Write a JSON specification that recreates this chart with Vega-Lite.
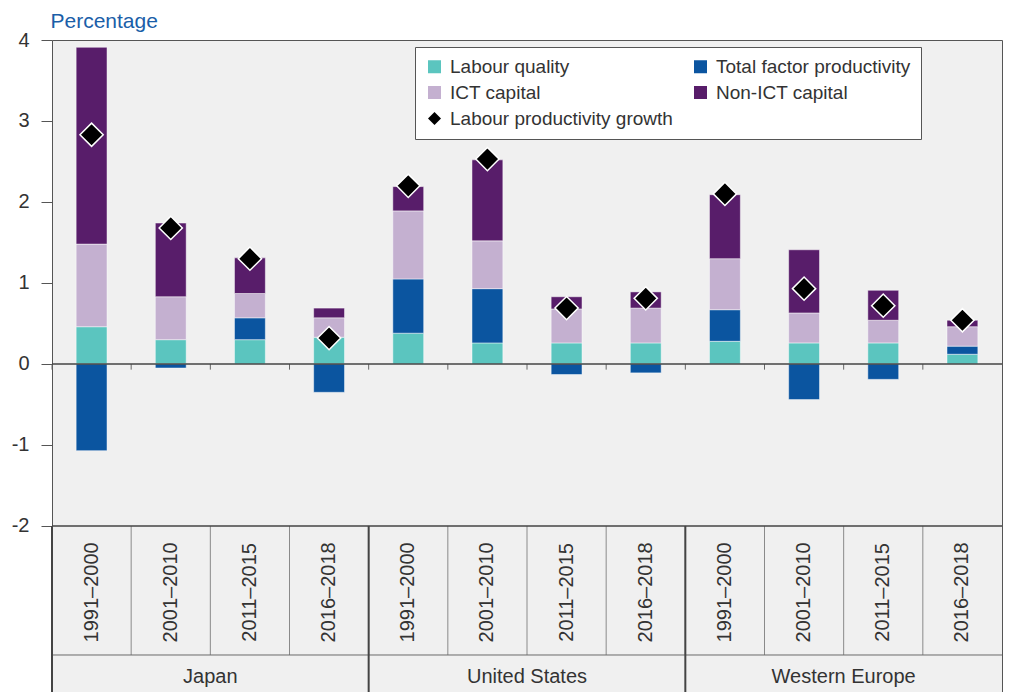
{
  "$schema": "https://vega.github.io/schema/vega-lite/v6.json",
  "width": 950,
  "height": 652,
  "autosize": {"type": "none"},
  "padding": {"left": 52, "top": 40, "right": 8, "bottom": 0},
  "background": "white",
  "config": {
    "font": "Liberation Sans",
    "view": {"fill": "#f0f0f0", "stroke": "#555555", "strokeWidth": 1}
  },
  "datasets": {
    "components": [
      {"slot": "Japan 1991–2000", "series": "Labour quality", "value": 0.46},
      {"slot": "Japan 1991–2000", "series": "Total factor productivity", "value": -1.07},
      {"slot": "Japan 1991–2000", "series": "ICT capital", "value": 1.02},
      {"slot": "Japan 1991–2000", "series": "Non-ICT capital", "value": 2.43},
      {"slot": "Japan 2001–2010", "series": "Labour quality", "value": 0.30},
      {"slot": "Japan 2001–2010", "series": "Total factor productivity", "value": -0.05},
      {"slot": "Japan 2001–2010", "series": "ICT capital", "value": 0.53},
      {"slot": "Japan 2001–2010", "series": "Non-ICT capital", "value": 0.91},
      {"slot": "Japan 2011–2015", "series": "Labour quality", "value": 0.30},
      {"slot": "Japan 2011–2015", "series": "Total factor productivity", "value": 0.27},
      {"slot": "Japan 2011–2015", "series": "ICT capital", "value": 0.30},
      {"slot": "Japan 2011–2015", "series": "Non-ICT capital", "value": 0.44},
      {"slot": "Japan 2016–2018", "series": "Labour quality", "value": 0.33},
      {"slot": "Japan 2016–2018", "series": "Total factor productivity", "value": -0.35},
      {"slot": "Japan 2016–2018", "series": "ICT capital", "value": 0.24},
      {"slot": "Japan 2016–2018", "series": "Non-ICT capital", "value": 0.12},
      {"slot": "United States 1991–2000", "series": "Labour quality", "value": 0.38},
      {"slot": "United States 1991–2000", "series": "Total factor productivity", "value": 0.67},
      {"slot": "United States 1991–2000", "series": "ICT capital", "value": 0.84},
      {"slot": "United States 1991–2000", "series": "Non-ICT capital", "value": 0.30},
      {"slot": "United States 2001–2010", "series": "Labour quality", "value": 0.26},
      {"slot": "United States 2001–2010", "series": "Total factor productivity", "value": 0.67},
      {"slot": "United States 2001–2010", "series": "ICT capital", "value": 0.59},
      {"slot": "United States 2001–2010", "series": "Non-ICT capital", "value": 1.00},
      {"slot": "United States 2011–2015", "series": "Labour quality", "value": 0.26},
      {"slot": "United States 2011–2015", "series": "Total factor productivity", "value": -0.13},
      {"slot": "United States 2011–2015", "series": "ICT capital", "value": 0.42},
      {"slot": "United States 2011–2015", "series": "Non-ICT capital", "value": 0.15},
      {"slot": "United States 2016–2018", "series": "Labour quality", "value": 0.26},
      {"slot": "United States 2016–2018", "series": "Total factor productivity", "value": -0.11},
      {"slot": "United States 2016–2018", "series": "ICT capital", "value": 0.43},
      {"slot": "United States 2016–2018", "series": "Non-ICT capital", "value": 0.20},
      {"slot": "Western Europe 1991–2000", "series": "Labour quality", "value": 0.28},
      {"slot": "Western Europe 1991–2000", "series": "Total factor productivity", "value": 0.39},
      {"slot": "Western Europe 1991–2000", "series": "ICT capital", "value": 0.63},
      {"slot": "Western Europe 1991–2000", "series": "Non-ICT capital", "value": 0.79},
      {"slot": "Western Europe 2001–2010", "series": "Labour quality", "value": 0.26},
      {"slot": "Western Europe 2001–2010", "series": "Total factor productivity", "value": -0.44},
      {"slot": "Western Europe 2001–2010", "series": "ICT capital", "value": 0.37},
      {"slot": "Western Europe 2001–2010", "series": "Non-ICT capital", "value": 0.78},
      {"slot": "Western Europe 2011–2015", "series": "Labour quality", "value": 0.26},
      {"slot": "Western Europe 2011–2015", "series": "Total factor productivity", "value": -0.19},
      {"slot": "Western Europe 2011–2015", "series": "ICT capital", "value": 0.28},
      {"slot": "Western Europe 2011–2015", "series": "Non-ICT capital", "value": 0.37},
      {"slot": "Western Europe 2016–2018", "series": "Labour quality", "value": 0.12},
      {"slot": "Western Europe 2016–2018", "series": "Total factor productivity", "value": 0.10},
      {"slot": "Western Europe 2016–2018", "series": "ICT capital", "value": 0.24},
      {"slot": "Western Europe 2016–2018", "series": "Non-ICT capital", "value": 0.08}
    ],
    "growth": [
      {"slot": "Japan 1991–2000", "series": "Labour productivity growth", "value": 2.83},
      {"slot": "Japan 2001–2010", "series": "Labour productivity growth", "value": 1.68},
      {"slot": "Japan 2011–2015", "series": "Labour productivity growth", "value": 1.30},
      {"slot": "Japan 2016–2018", "series": "Labour productivity growth", "value": 0.32},
      {"slot": "United States 1991–2000", "series": "Labour productivity growth", "value": 2.20},
      {"slot": "United States 2001–2010", "series": "Labour productivity growth", "value": 2.53},
      {"slot": "United States 2011–2015", "series": "Labour productivity growth", "value": 0.69},
      {"slot": "United States 2016–2018", "series": "Labour productivity growth", "value": 0.81},
      {"slot": "Western Europe 1991–2000", "series": "Labour productivity growth", "value": 2.10},
      {"slot": "Western Europe 2001–2010", "series": "Labour productivity growth", "value": 0.93},
      {"slot": "Western Europe 2011–2015", "series": "Labour productivity growth", "value": 0.72},
      {"slot": "Western Europe 2016–2018", "series": "Labour productivity growth", "value": 0.54}
    ],
    "slots": [
      {"slot": "Japan 1991–2000", "region": "Japan", "period": "1991–2000"},
      {"slot": "Japan 2001–2010", "region": "Japan", "period": "2001–2010"},
      {"slot": "Japan 2011–2015", "region": "Japan", "period": "2011–2015"},
      {"slot": "Japan 2016–2018", "region": "Japan", "period": "2016–2018"},
      {"slot": "United States 1991–2000", "region": "United States", "period": "1991–2000"},
      {"slot": "United States 2001–2010", "region": "United States", "period": "2001–2010"},
      {"slot": "United States 2011–2015", "region": "United States", "period": "2011–2015"},
      {"slot": "United States 2016–2018", "region": "United States", "period": "2016–2018"},
      {"slot": "Western Europe 1991–2000", "region": "Western Europe", "period": "1991–2000"},
      {"slot": "Western Europe 2001–2010", "region": "Western Europe", "period": "2001–2010"},
      {"slot": "Western Europe 2011–2015", "region": "Western Europe", "period": "2011–2015"},
      {"slot": "Western Europe 2016–2018", "region": "Western Europe", "period": "2016–2018"}
    ]
  },
  "layer": [
    {
      "data": {"name": "components"},
      "mark": {"type": "bar", "width": {"band": 0.39}, "stroke": "#ffffff", "strokeWidth": 0.8, "strokeOpacity": 0.6},
      "encoding": {
        "x": {"field": "slot", "type": "nominal", "scale": {"paddingInner": 0, "paddingOuter": 0}, "axis": null},
        "y": {
          "field": "value", "type": "quantitative", "stack": "zero",
          "scale": {"domain": [-4.05, 4], "nice": false, "zero": false},
          "axis": {
            "values": [-2, -1, 0, 1, 2, 3, 4], "labelExpr": "'' + datum.value", "grid": false, "domain": false,
            "tickSize": 11, "tickColor": "#555555", "tickWidth": 1,
            "labelFontSize": 20, "labelColor": "#333333", "labelPadding": 12,
            "title": "Percentage", "titleAngle": 0, "titleX": -2, "titleY": -13,
            "titleAlign": "left", "titleBaseline": "alphabetic",
            "titleFontSize": 21, "titleFontWeight": "normal", "titleColor": "#1a5ea8"
          }
        },
        "color": {
          "field": "series", "type": "nominal",
          "scale": {
            "domain": ["Labour quality", "Total factor productivity", "ICT capital", "Non-ICT capital", "Labour productivity growth"],
            "range": ["#5bc5bf", "#0b55a0", "#c4b0d0", "#581d6a", "#000000"]
          },
          "legend": {
            "orient": "none", "legendX": 363, "legendY": 7, "title": null,
            "direction": "horizontal", "columns": 2, "columnPadding": 18, "rowPadding": 6, "padding": 10,
            "fillColor": "#ffffff", "strokeColor": "#555555",
            "labelFontSize": 19, "labelColor": "#333333", "labelLimit": 400, "labelOffset": 6,
            "symbolSize": 169, "symbolStrokeWidth": 0,
            "encode": {
              "symbols": {
                "update": {
                  "stroke": {"value": "transparent"},
                  "strokeWidth": {"value": 0},
                  "opacity": {"value": 1}
                }
              }
            }
          }
        },
        "order": {"field": "series_order_missing", "type": "quantitative"}
      }
    },
    {
      "data": {"name": "slots"},
      "mark": {"type": "rule", "color": "#666666", "strokeWidth": 1},
      "encoding": {
        "x": {"field": "slot", "type": "nominal", "bandPosition": 0},
        "y": {"datum": 0},
        "y2": {"datum": -0.07}
      }
    },
    {
      "data": {"values": [{"level": 0}]},
      "mark": {"type": "rule", "color": "#444444", "strokeWidth": 1.5},
      "encoding": {"y": {"datum": 0}}
    },
    {
      "data": {"name": "growth"},
      "mark": {"type": "point", "filled": true, "size": 540, "stroke": "#ffffff", "strokeWidth": 1.5, "opacity": 1},
      "encoding": {
        "x": {"field": "slot", "type": "nominal"},
        "y": {"field": "value", "type": "quantitative"},
        "color": {"field": "series", "type": "nominal"},
        "shape": {
          "field": "series", "type": "nominal",
          "scale": {
            "domain": ["Labour quality", "Total factor productivity", "ICT capital", "Non-ICT capital", "Labour productivity growth"],
            "range": ["square", "square", "square", "square", "diamond"]
          }
        }
      }
    },
    {
      "data": {"name": "slots"},
      "mark": {"type": "rule", "color": "#8a8a8a", "strokeWidth": 1},
      "encoding": {
        "x": {"field": "slot", "type": "nominal", "bandPosition": 0},
        "y": {"datum": -2},
        "y2": {"datum": -3.593}
      }
    },
    {
      "data": {"values": [{"level": -3.593}]},
      "mark": {"type": "rule", "color": "#6a6a6a", "strokeWidth": 1},
      "encoding": {"y": {"datum": -3.593}}
    },
    {
      "data": {"values": [{"level": -2}]},
      "mark": {"type": "rule", "color": "#444444", "strokeWidth": 1.5},
      "encoding": {"y": {"datum": -2}}
    },
    {
      "data": {"name": "slots"},
      "transform": [{"filter": "datum.period == '1991–2000'"}],
      "mark": {"type": "rule", "color": "#444444", "strokeWidth": 2},
      "encoding": {
        "x": {"field": "slot", "type": "nominal", "bandPosition": 0},
        "y": {"datum": -2},
        "y2": {"datum": -4.05}
      }
    },
    {
      "data": {"name": "slots"},
      "mark": {"type": "text", "angle": 270, "fontSize": 20, "color": "#333333", "align": "center", "baseline": "middle"},
      "encoding": {
        "x": {"field": "slot", "type": "nominal"},
        "y": {"datum": -2.82},
        "text": {"field": "period"}
      }
    },
    {
      "data": {"name": "slots"},
      "transform": [{"filter": "datum.period == '2001–2010'"}],
      "mark": {"type": "text", "fontSize": 20, "color": "#333333", "align": "center", "baseline": "middle"},
      "encoding": {
        "x": {"field": "slot", "type": "nominal", "bandPosition": 1},
        "y": {"datum": -3.87},
        "text": {"field": "region"}
      }
    }
  ]
}
